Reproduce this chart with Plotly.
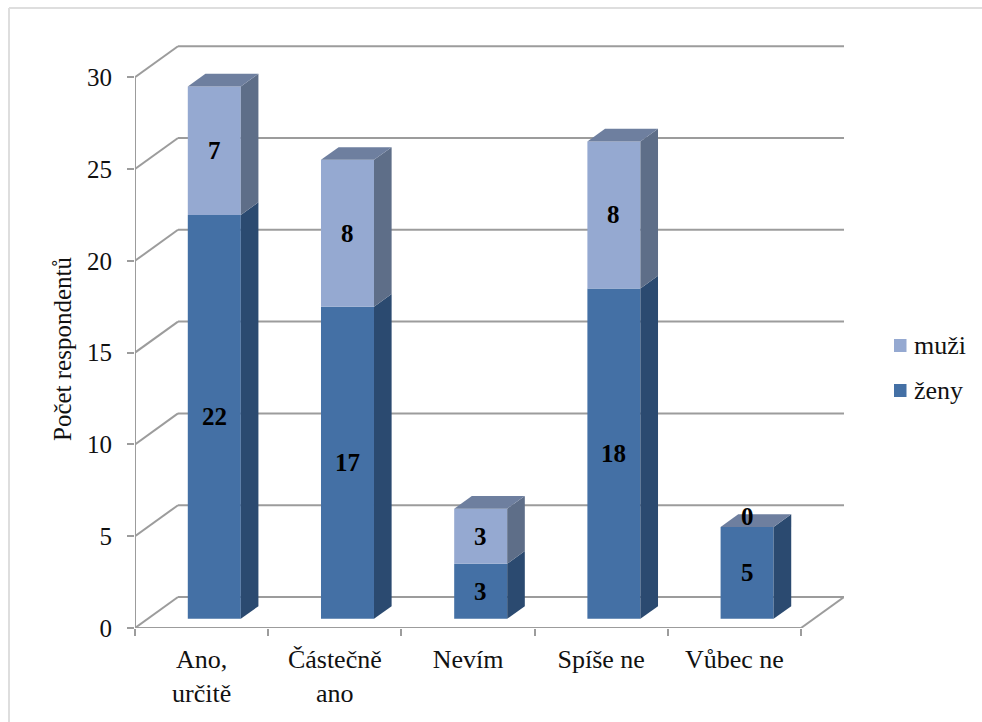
import plotly.graph_objects as go

# Survey responses by answer, split by gender
categories = ["Ano,<br>určitě", "Částečně<br>ano", "Nevím", "Spíše ne", "Vůbec ne"]
zeny = [22, 17, 3, 18, 5]
muzi = [7, 8, 3, 8, 0]
value_ticks = [0, 5, 10, 15, 20, 25, 30]

W, H = 982, 722
FONT = "Liberation Serif"
FONT_SIZE = 25
LABEL_SIZE = 26
INK = "#111111"
GRID = "#9c9c9c"

ZENY_FRONT, ZENY_SIDE = "#4470a5", "#2b4a70"
MUZI_FRONT, MUZI_SIDE = "#95a9d1", "#5e6e88"
TOP_FACE = "#6e7f9f"

# Oblique chart box, in pixels: front-left origin, category width, value scale
X0, Y0 = 135, 628
CAT_PX, VAL_PX = 133.2, 18.36
WALL_DX, WALL_DY, TOP_Y = 43, 31, 45
BAR_WIDTH = 53 / CAT_PX

# Depth shift of one full box depth, in data units
DEPTH_X = WALL_DX / CAT_PX
DEPTH_Y = WALL_DY / VAL_PX
BAR_NEAR, BAR_FAR = 0.295, 0.705


def shifted(x, y, depth):
    """Oblique projection of a data point pushed back by a fraction of the box depth."""
    return x + depth * DEPTH_X, y + depth * DEPTH_Y


def line_shape(p, q, color=GRID, width=2):
    return dict(type="line", xref="x", yref="y", layer="below",
                x0=p[0], y0=p[1], x1=q[0], y1=q[1],
                line=dict(color=color, width=width))


n = len(categories)
centers = [i + 0.5 for i in range(n)]
bar_x = [shifted(c, 0, BAR_NEAR)[0] for c in centers]
bar_base = shifted(0, 0, BAR_NEAR)[1]

shapes = []
# Side wall and back wall gridlines
for v in value_ticks:
    shapes.append(line_shape((0, v), shifted(0, v, 1)))
    shapes.append(line_shape(shifted(0, v, 1), shifted(n, v, 1)))
# Front edges of the floor and the value axis
shapes.append(line_shape((0, 0), (n, 0)))
shapes.append(line_shape((n, 0), shifted(n, 0, 1)))
shapes.append(line_shape((0, 0), (0, value_ticks[-1])))

fig = go.Figure()


def add_face(xs, ys, color):
    fig.add_trace(go.Scatter(x=xs, y=ys, mode="lines", fill="toself", fillcolor=color,
                             line=dict(width=0), hoverinfo="skip", showlegend=False))


half = BAR_WIDTH / 2
annotations = []
for name, vals, bottoms, front, side in [
    ("ženy", zeny, [0] * n, ZENY_FRONT, ZENY_SIDE),
    ("muži", muzi, zeny, MUZI_FRONT, MUZI_SIDE),
]:
    fig.add_trace(go.Bar(x=bar_x, y=vals, base=[b + bar_base for b in bottoms],
                         width=BAR_WIDTH, name=name, showlegend=False,
                         marker=dict(color=front, line=dict(width=0))))
    for c, v, b in zip(centers, vals, bottoms):
        right = c + half
        xs, ys = zip(
            shifted(right, b, BAR_NEAR), shifted(right, b + v, BAR_NEAR),
            shifted(right, b + v, BAR_FAR), shifted(right, b, BAR_FAR),
        )
        add_face(list(xs), list(ys), side)
        lx, ly = shifted(c, b + v / 2, BAR_NEAR)
        annotations.append(dict(
            x=lx, y=ly, xref="x", yref="y", text=f"<b>{v}</b>", showarrow=False,
            font=dict(family=FONT, size=FONT_SIZE, color="#000000"),
            yshift=11 if v == 0 else 0,
        ))

# Top faces of the stacks
for c, a, b in zip(centers, zeny, muzi):
    t = a + b
    corners = [shifted(c - half, t, BAR_NEAR), shifted(c + half, t, BAR_NEAR),
               shifted(c + half, t, BAR_FAR), shifted(c - half, t, BAR_FAR)]
    xs, ys = zip(*corners)
    add_face(list(xs), list(ys), TOP_FACE)

# Legend keys and the outer frame, placed on the page
def px(x):
    return x / W


def py(y):
    return 1 - y / H


for name, color, top in [("muži", MUZI_FRONT, 339), ("ženy", ZENY_FRONT, 384)]:
    shapes.append(dict(type="rect", xref="paper", yref="paper", x0=px(894), x1=px(906.5),
                       y0=py(top), y1=py(top + 13), fillcolor=color, line=dict(width=0)))
    annotations.append(dict(x=px(912), y=py(top + 6.5), xref="paper", yref="paper", text=name,
                            xanchor="left", yanchor="middle", showarrow=False,
                            font=dict(family=FONT, size=LABEL_SIZE, color=INK)))

for x0, y0, x1, y1 in [(9, 8, 9, H), (9, 8, W, 8)]:
    shapes.append(dict(type="line", xref="paper", yref="paper", x0=px(x0), x1=px(x1),
                       y0=py(y0), y1=py(y1), line=dict(color="#dedede", width=2)))

annotations.append(dict(x=px(63), y=py(349), xref="paper", yref="paper", text="Počet respondentů",
                        textangle=-90, showarrow=False, xanchor="center", yanchor="middle",
                        font=dict(family=FONT, size=FONT_SIZE, color=INK)))

fig.update_layout(
    width=W, height=H, margin=dict(l=0, r=0, t=0, b=0),
    paper_bgcolor="white", plot_bgcolor="white", barmode="overlay", showlegend=False,
    font=dict(family=FONT, size=FONT_SIZE, color=INK),
    shapes=shapes, annotations=annotations,
    xaxis=dict(
        domain=[px(X0), px(X0 + WALL_DX + n * CAT_PX)],
        range=[0, WALL_DX / CAT_PX + n],
        automargin=False, ticklabelstandoff=13,
        tickfont=dict(size=LABEL_SIZE),
        tickmode="array", tickvals=centers, ticktext=categories,
        ticks="", showgrid=False, zeroline=False, showline=False,
        minor=dict(tickmode="linear", tick0=0, dtick=1, ticks="outside",
                   ticklen=7, tickwidth=2, tickcolor=GRID, showgrid=False),
    ),
    yaxis=dict(
        domain=[py(Y0), py(TOP_Y)],
        range=[0, (Y0 - TOP_Y) / VAL_PX],
        automargin=False, ticklabelstandoff=10,
        tickmode="array", tickvals=value_ticks,
        ticks="outside", ticklen=7, tickwidth=2, tickcolor=GRID,
        showgrid=False, zeroline=False, showline=False,
    ),
)

fig.write_html("out.html")
